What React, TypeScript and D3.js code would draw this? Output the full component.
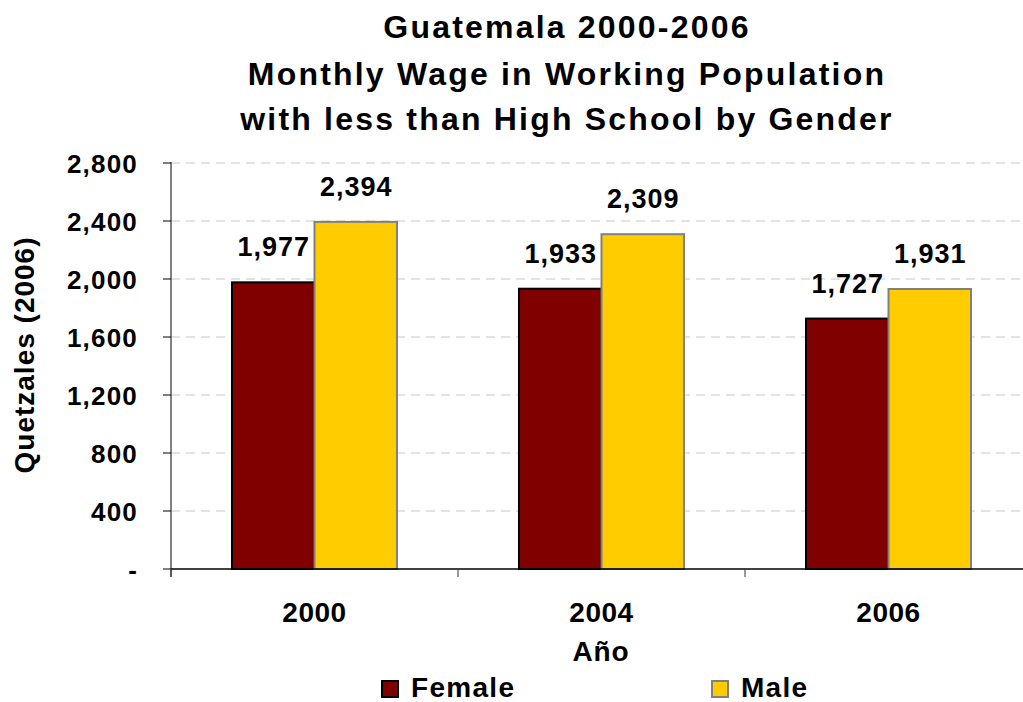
import React from "react";
import * as d3 from "d3";

const categories = ["2000", "2004", "2006"];
const seriesNames = ["Female", "Male"];
const female = [1977, 1933, 1727];
const male = [2394, 2309, 1931];
const yTicks = [0, 400, 800, 1200, 1600, 2000, 2400, 2800];
const titleLines = [
  "Guatemala 2000-2006",
  "Monthly Wage in Working Population",
  "with less than High School by Gender",
];

const W = 1023;
const H = 702;
const left = 171;
const right = 1032;
const top = 163;
const bottom = 569;
const font = "'Liberation Sans', Arial, sans-serif";
const fills = ["#800000", "#FFCC00"];
const strokes = ["#000000", "#808080"];

export default function App() {
  const x0 = d3.scaleBand<string>().domain(categories).range([left, right]).paddingInner(0.425).paddingOuter(0.2125);
  const x1 = d3.scaleBand<string>().domain(seriesNames).range([0, x0.bandwidth()]);
  const y = d3.scaleLinear().domain([0, 2800]).range([bottom, top]);
  const fmt = d3.format(",");
  const values = [female, male];
  const step = x0.step();
  const boundaries = d3.range(categories.length + 1).map((i) => left + i * step);

  return (
    <svg width={W} height={H} style={{ position: "absolute", left: 0, top: 0, background: "#fff" }} fontFamily={font}>
      {titleLines.map((t, i) => (
        <text key={t} x={567} y={[38, 85, 130][i]} textAnchor="middle" fontSize={32} fontWeight="bold" letterSpacing={2.2} fill="#000">
          {t}
        </text>
      ))}
      {yTicks.slice(1).map((v) => (
        <line key={"g" + v} x1={left} x2={right} y1={y(v)} y2={y(v)} stroke="#C8C8C8" strokeWidth={1.2} strokeDasharray="9,6" />
      ))}
      {yTicks.map((v) => (
        <g key={"t" + v}>
          <line x1={left - 8} x2={left} y1={y(v)} y2={y(v)} stroke="#000" strokeWidth={1} />
          <text x={138} y={y(v) + 9.5} textAnchor="end" fontSize={26} fontWeight="bold" letterSpacing={1.2} fill="#000">
            {v === 0 ? "-" : fmt(v)}
          </text>
        </g>
      ))}
      <line x1={left} x2={left} y1={top - 1} y2={bottom + 8} stroke="#000" strokeWidth={1} />
      {categories.map((c, ci) => (
        <g key={c}>
          {seriesNames.map((s, si) => {
            const v = values[si][ci];
            const bx = (x0(c) as number) + (x1(s) as number);
            return (
              <g key={s}>
                <rect x={bx} y={y(v)} width={x1.bandwidth()} height={bottom - y(v)} fill={fills[si]} stroke={strokes[si]} strokeWidth={2} />
                <text x={bx + x1.bandwidth() / 2 + 0.5} y={y(v) - 26} textAnchor="middle" fontSize={27} fontWeight="bold" letterSpacing={1} fill="#000">
                  {fmt(v)}
                </text>
              </g>
            );
          })}
          <text x={(x0(c) as number) + x0.bandwidth() / 2} y={622} textAnchor="middle" fontSize={28} fontWeight="bold" letterSpacing={0.5} fill="#000">
            {c}
          </text>
        </g>
      ))}
      <line x1={left} x2={right} y1={bottom} y2={bottom} stroke="#000" strokeWidth={1.5} />
      {boundaries.map((bx, i) => (
        <line key={"b" + i} x1={bx} x2={bx} y1={bottom} y2={bottom + 8} stroke="#333" strokeWidth={1} />
      ))}
      <text x={601} y={661} textAnchor="middle" fontSize={28} fontWeight="bold" letterSpacing={0.8} fill="#000">
        Año
      </text>
      <text transform={`translate(34,355) rotate(-90)`} textAnchor="middle" fontSize={28} fontWeight="bold" letterSpacing={1} fill="#000">
        Quetzales (2006)
      </text>
      {seriesNames.map((s, si) => {
        const lx = si === 0 ? 382 : 712;
        return (
          <g key={"l" + s}>
            <rect x={lx} y={681} width={16} height={16} fill={fills[si]} stroke={strokes[si]} strokeWidth={2} />
            <text x={lx + 29} y={697} fontSize={28} fontWeight="bold" letterSpacing={1.3} fill="#000">
              {s}
            </text>
          </g>
        );
      })}
    </svg>
  );
}
